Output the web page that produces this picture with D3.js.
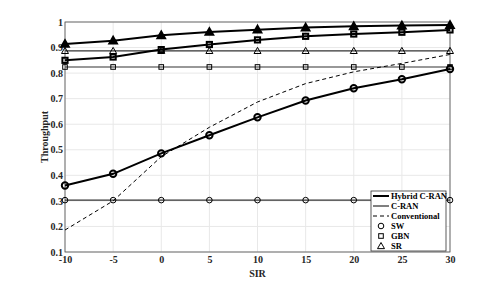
<!DOCTYPE html>
<html>
<head>
<meta charset="utf-8">
<script src="https://cdn.jsdelivr.net/npm/d3@7"></script>
<style>
  body { margin: 0; background: #fff; }
  svg text { font-family: "Liberation Serif", "Times New Roman", serif; font-weight: bold; }
</style>
</head>
<body>
<svg id="chart" width="498" height="284"></svg>
<script>
// data
const sir = [-10, -5, 0, 5, 10, 15, 20, 25, 30];
const hybridSW  = [0.360, 0.406, 0.486, 0.557, 0.627, 0.693, 0.741, 0.776, 0.816];
const hybridGBN = [0.850, 0.863, 0.892, 0.912, 0.930, 0.944, 0.953, 0.960, 0.969];
const hybridSR  = [0.914, 0.927, 0.948, 0.961, 0.970, 0.978, 0.983, 0.986, 0.988];
const cranSW  = [0.303, 0.303, 0.303, 0.303, 0.303, 0.303, 0.303, 0.303, 0.303];
const cranGBN = [0.824, 0.824, 0.824, 0.824, 0.824, 0.824, 0.824, 0.824, 0.824];
const cranSR  = [0.887, 0.887, 0.887, 0.887, 0.887, 0.887, 0.887, 0.887, 0.887];
const conventional = [0.186, 0.300, 0.473, 0.588, 0.687, 0.759, 0.805, 0.838, 0.873];
const xTicks = [-10, -5, 0, 5, 10, 15, 20, 25, 30];
const yTicks = [0.1, 0.2, 0.3, 0.4, 0.5, 0.6, 0.7, 0.8, 0.9, 1];
const legendLabels = ["Hybrid C-RAN", "C-RAN", "Conventional", "SW", "GBN", "SR"];

const margin = {top: 22, right: 48, bottom: 32, left: 65};
const width = 498 - margin.left - margin.right;
const height = 284 - margin.top - margin.bottom;

let svg = d3.select('#chart');
let plot = svg.append('g')
    .attr('transform', 'translate(' + margin.left + ',' + margin.top + ')');

let x = d3.scaleLinear().domain([-10, 30]).range([0, width]);
let y = d3.scaleLinear().domain([0.1, 1]).range([height, 0]);

// grid
plot.append('g').selectAll('line').data(xTicks).join('line')
    .attr('x1', d => x(d)).attr('x2', d => x(d))
    .attr('y1', 0).attr('y2', height)
    .attr('stroke', '#e8e8e8').attr('stroke-width', 1);
plot.append('g').selectAll('line').data(yTicks).join('line')
    .attr('y1', d => y(d)).attr('y2', d => y(d))
    .attr('x1', 0).attr('x2', width)
    .attr('stroke', '#e8e8e8').attr('stroke-width', 1);

// axes
let xAxis = plot.append('g').attr('transform', 'translate(0,' + height + ')')
    .call(d3.axisBottom(x).tickValues(xTicks).tickSize(0).tickPadding(4).tickFormat(d => String(d)));
let yAxis = plot.append('g')
    .call(d3.axisLeft(y).tickValues(yTicks).tickSize(0).tickPadding(2).tickFormat(d => d === 1 ? '1' : d3.format('.1f')(d)));
[xAxis, yAxis].forEach(a => {
    a.select('.domain').remove();
    a.selectAll('text').attr('font-size', 10).attr('fill', '#262626')
        .attr('font-family', '"Liberation Serif", serif').attr('font-weight', 'bold');
});
plot.append('rect').attr('width', width).attr('height', height)
    .attr('fill', 'none').attr('stroke', '#4a4a4a').attr('stroke-width', 0.8);

let line = d3.line().x((d, i) => x(sir[i])).y(d => y(d));

function marker(g, shape, cx, cy, sw, big) {
    if (shape === 'circle') {
        g.append('circle').attr('cx', cx).attr('cy', cy).attr('r', big ? 3.2 : 2.8)
            .attr('fill', 'none').attr('stroke', '#000').attr('stroke-width', sw);
    } else if (shape === 'square') {
        let s = big ? 5.2 : 4.6;
        g.append('rect').attr('x', cx - s / 2).attr('y', cy - s / 2).attr('width', s).attr('height', s)
            .attr('fill', 'none').attr('stroke', '#000').attr('stroke-width', sw);
    } else {
        let s = big ? 3.8 : 3.5;
        g.append('path').attr('d', d3.line()([[cx, cy - s], [cx + s, cy + s * 0.75], [cx - s, cy + s * 0.75]]) + 'Z')
            .attr('fill', big ? '#000' : 'none').attr('stroke', '#000').attr('stroke-width', sw);
    }
}

function series(vals, shape, kind) {
    let g = plot.append('g');
    g.append('path').datum(vals).attr('d', line).attr('fill', 'none')
        .attr('stroke', kind === 'hybrid' ? '#000' : '#333')
        .attr('stroke-width', kind === 'hybrid' ? 2 : 1.1);
    vals.forEach((v, i) => marker(g, shape, x(sir[i]), y(v), kind === 'hybrid' ? 2 : 1, kind === 'hybrid'));
}

series(cranSW, 'circle', 'cran');
series(cranGBN, 'square', 'cran');
series(cranSR, 'triangle', 'cran');
plot.append('path').datum(conventional).attr('d', line).attr('fill', 'none')
    .attr('stroke', '#000').attr('stroke-width', 1).attr('stroke-dasharray', '4,3');
series(hybridSW, 'circle', 'hybrid');
series(hybridGBN, 'square', 'hybrid');
series(hybridSR, 'triangle', 'hybrid');

// axis labels
svg.append('text').attr('x', margin.left + x(10)).attr('y', 277)
    .attr('text-anchor', 'middle').attr('font-size', 10).attr('fill', '#262626').text('SIR');
svg.append('text').attr('transform', 'translate(48,' + (margin.top + height / 2) + ') rotate(-90)')
    .attr('text-anchor', 'middle').attr('font-size', 10).attr('fill', '#262626').text('Throughput');

// legend
let lg = svg.append('g').attr('transform', 'translate(371,191)');
lg.append('rect').attr('width', 75).attr('height', 60).attr('fill', '#fff')
    .attr('stroke', '#333').attr('stroke-width', 0.8);
legendLabels.forEach((t, i) => {
    let yy = 5 + i * 10;
    let r = lg.append('g');
    if (i === 0) r.append('line').attr('x1', 2).attr('x2', 18).attr('y1', yy).attr('y2', yy).attr('stroke', '#000').attr('stroke-width', 2);
    if (i === 1) r.append('line').attr('x1', 2).attr('x2', 18).attr('y1', yy).attr('y2', yy).attr('stroke', '#000').attr('stroke-width', 1);
    if (i === 2) r.append('line').attr('x1', 2).attr('x2', 18).attr('y1', yy).attr('y2', yy).attr('stroke', '#000').attr('stroke-width', 1).attr('stroke-dasharray', '4,3');
    if (i === 3) marker(r, 'circle', 10, yy, 1, false);
    if (i === 4) marker(r, 'square', 10, yy, 1, false);
    if (i === 5) marker(r, 'triangle', 10, yy, 1, false);
    r.append('text').attr('x', 20).attr('y', yy + 3.3).attr('font-size', 8.5).attr('fill', '#000').text(t);
});
</script>
</body>
</html>
